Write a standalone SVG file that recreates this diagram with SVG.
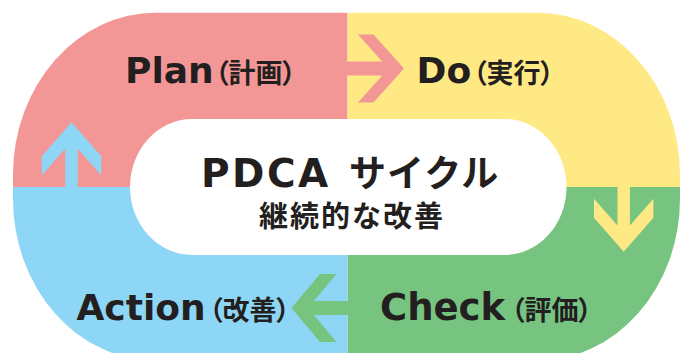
<svg xmlns="http://www.w3.org/2000/svg" width="682" height="353" viewBox="0 0 682 353">
  <style>
    .lat { font-family: "DejaVu Sans", "Liberation Sans", sans-serif; font-weight: bold; fill: #231f20; }
    .cjk { font-family: "Noto Sans CJK JP", "Noto Sans CJK SC", sans-serif; font-weight: bold; fill: #231f20; font-feature-settings: "palt"; }
    .cjkf { font-family: "Noto Sans CJK JP", "Noto Sans CJK SC", sans-serif; font-weight: bold; fill: #231f20; }
    .pink { fill: #f39796; }
    .yellow { fill: #ffe984; }
    .green { fill: #76c480; }
    .blue { fill: #8ed6f5; }
  </style>
  <defs>
    <clipPath id="ring">
      <rect x="13" y="12.7" width="667" height="348" rx="143" ry="162"/>
    </clipPath>
  </defs>
  <rect width="682" height="353" fill="#ffffff"/>

  <g clip-path="url(#ring)">
    <g id="plan-area"><rect class="pink" x="0" y="0" width="347.5" height="187"/></g>
    <g id="do-area"><rect class="yellow" x="347.5" y="0" width="334.5" height="187"/></g>
    <g id="check-area"><rect class="green" x="347.5" y="187" width="334.5" height="166"/></g>
    <g id="action-area"><rect class="blue" x="0" y="187" width="347.5" height="166"/></g>
  </g>

  <g id="connectors">
    <path class="pink" d="M340,61.5 H382.2 L358,34.5 H373.5 L404,68.5 L373.5,102.5 H358 L382.2,75.5 H340 Z"/>
    <path class="yellow" d="M617.5,180 V225.6 L594,198.7 V217.7 L623.7,251.7 L653.4,217.7 V198.7 L629.9,225.6 V180 Z"/>
    <path class="green" d="M354,301 H313.9 L336.5,274 H320 L291.5,308 L320,342 H336.5 L313.9,315 H354 Z"/>
    <path class="blue" d="M65.3,194 V148.4 L41.8,175.3 V156.3 L71.5,122.3 L101.2,156.3 V175.3 L77.7,148.4 V194 Z"/>
  </g>

  <g id="center">
    <rect x="130" y="119" width="436.5" height="136" rx="62" ry="68" fill="#ffffff"/>
    <text y="186.5"><tspan class="lat" x="201" font-size="39" letter-spacing="2.5">PDCA </tspan><tspan class="cjkf" x="349" font-size="37" letter-spacing="1">サイクル</tspan></text>
    <text class="cjkf" x="352" y="227" font-size="29" letter-spacing="2" text-anchor="middle">継続的な改善</text>
  </g>

  <g id="plan">
    <text y="83.3"><tspan class="lat" x="125" font-size="36">Plan</tspan><tspan class="cjk" x="215" font-size="27">（計画）</tspan></text>
  </g>
  <g id="do">
    <text y="83.3"><tspan class="lat" x="416.5" font-size="36">Do</tspan><tspan class="cjk" x="473" font-size="27">（実行）</tspan></text>
  </g>
  <g id="check">
    <text y="320"><tspan class="lat" x="380" font-size="37">Check</tspan><tspan class="cjk" x="511" font-size="27">（評価）</tspan></text>
  </g>
  <g id="action">
    <text y="320"><tspan class="lat" x="76.5" font-size="36">Action</tspan><tspan class="cjk" x="209" font-size="27">（改善）</tspan></text>
  </g>
</svg>
